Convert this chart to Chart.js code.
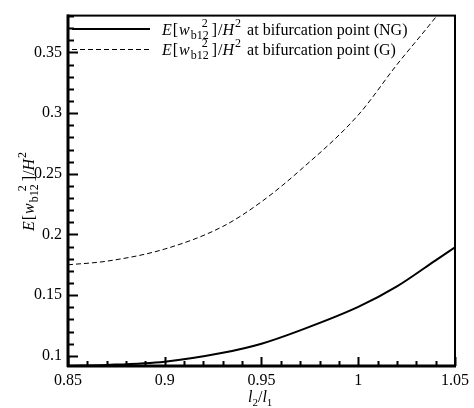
<!DOCTYPE html>
<html>
<head>
<meta charset="utf-8">
<script src="https://cdn.jsdelivr.net/npm/chart.js@4.4.1/dist/chart.umd.min.js"></script>
<style>
html, body { margin: 0; padding: 0; background: #fff; }
</style>
</head>
<body>
<canvas id="chart" width="474" height="408"></canvas>
<script>
// l2/l1 values and E[w_b12^2]/H^2
const ratio = [0.85, 0.87, 0.9, 0.93, 0.95, 0.97, 1.0, 1.02, 1.04, 1.05];
const wNG = [0.0918, 0.0925, 0.0952, 0.1025, 0.110, 0.121, 0.1403, 0.1572, 0.1787, 0.1895];
const wG = [0.1750, 0.1780, 0.1880, 0.2066, 0.2270, 0.2530, 0.2985, 0.3400, 0.3790, 0.4000];

const xTickValues = [0.85, 0.9, 0.95, 1.0, 1.05];
const xTickLabels = ['0.85', '0.9', '0.95', '1', '1.05'];
const yTickValues = [0.1, 0.15, 0.2, 0.25, 0.3, 0.35];
const yTickLabels = ['0.1', '0.15', '0.2', '0.25', '0.3', '0.35'];

const legendLabels = ['at bifurcation point (NG)', 'at bifurcation point (G)'];

const SERIF = '"Liberation Serif", "DejaVu Serif", serif';
function font(size, italic) {
    return (italic ? 'italic ' : '') + size + 'px ' + SERIF;
}

// draws E[w_b12^2]/H^2 from x on baseline y, returns end x
function drawEw(ctx, x, y) {
    ctx.textAlign = 'left';
    ctx.textBaseline = 'alphabetic';
    ctx.font = font(16, true);
    ctx.fillText('E', x, y); x += ctx.measureText('E').width + 1;
    ctx.font = font(16, false);
    ctx.fillText('[', x, y); x += ctx.measureText('[').width + 1;
    ctx.font = font(16, true);
    ctx.fillText('w', x, y); x += ctx.measureText('w').width + 1;
    ctx.font = font(12, false);
    ctx.fillText('b12', x, y + 4);
    const subW = ctx.measureText('b12').width;
    const supW = ctx.measureText('2').width;
    ctx.fillText('2', x + subW - supW - 1, y - 8);
    x += subW + 3;
    ctx.font = font(16, false);
    ctx.fillText(']', x, y); x += ctx.measureText(']').width + 1;
    ctx.fillText('/', x, y); x += ctx.measureText('/').width;
    ctx.font = font(16, true);
    ctx.fillText('H', x, y); x += ctx.measureText('H').width + 1;
    ctx.font = font(12, false);
    ctx.fillText('2', x, y - 8); x += ctx.measureText('2').width + 1;
    return x;
}

function isMajor(v, step) {
    return Math.abs(Math.round(v / step) * step - v) < 1e-6;
}

const framePlugin = {
    id: 'frame',
    afterDraw(chart) {
        const ctx = chart.ctx;
        const a = chart.chartArea;
        const xs = chart.scales.x;
        const ys = chart.scales.y;
        ctx.save();
        ctx.fillStyle = '#000';
        ctx.strokeStyle = '#000';

        // inward ticks
        ctx.lineWidth = 2;
        ctx.beginPath();
        for (let i = 0; i <= 29; i++) {
            const v = 0.09 + i * 0.01;
            if (v < ys.min || v > ys.max) continue;
            const py = Math.round(ys.getPixelForValue(v)) + 0.5;
            const len = isMajor(v, 0.05) ? 10 : 6;
            ctx.moveTo(a.left, py);
            ctx.lineTo(a.left + len, py);
        }
        for (let i = 0; i <= 20; i++) {
            const v = 0.85 + i * 0.01;
            const px = Math.round(xs.getPixelForValue(v)) + 0.5;
            const len = isMajor(v, 0.05) ? 9 : 5;
            ctx.moveTo(px, a.bottom);
            ctx.lineTo(px, a.bottom - len);
        }
        ctx.stroke();

        // frame
        ctx.lineWidth = 2;
        ctx.strokeRect(a.left, a.top, a.right - a.left, a.bottom - a.top);
        ctx.lineWidth = 3;
        ctx.beginPath();
        ctx.moveTo(a.left - 1, a.bottom);
        ctx.lineTo(a.right + 1, a.bottom);
        ctx.moveTo(a.left, a.top - 1);
        ctx.lineTo(a.left, a.bottom + 1);
        ctx.stroke();

        // legend
        ctx.lineWidth = 2;
        ctx.beginPath();
        ctx.moveTo(72, 29);
        ctx.lineTo(150, 29);
        ctx.stroke();
        ctx.lineWidth = 1;
        ctx.setLineDash([5, 3]);
        ctx.beginPath();
        ctx.moveTo(72, 49.5);
        ctx.lineTo(150, 49.5);
        ctx.stroke();
        ctx.setLineDash([]);

        let ex = drawEw(ctx, 162, 35);
        ctx.font = font(16, false);
        ctx.fillText(legendLabels[0], ex + 5, 35);
        ex = drawEw(ctx, 162, 54.5);
        ctx.font = font(16, false);
        ctx.fillText(legendLabels[1], ex + 5, 54.5);

        // y title
        ctx.save();
        ctx.translate(34, 231);
        ctx.rotate(-Math.PI / 2);
        drawEw(ctx, 0, 0);
        ctx.restore();

        // x title l2/l1
        let tx = 248, ty = 402;
        ctx.font = font(16, true);
        ctx.fillText('l', tx, ty); tx += ctx.measureText('l').width;
        ctx.font = font(11, false);
        ctx.fillText('2', tx, ty + 4); tx += ctx.measureText('2').width;
        ctx.font = font(16, false);
        ctx.fillText('/', tx, ty); tx += ctx.measureText('/').width;
        ctx.font = font(16, true);
        ctx.fillText('l', tx, ty); tx += ctx.measureText('l').width;
        ctx.font = font(11, false);
        ctx.fillText('1', tx, ty + 4);

        ctx.restore();
    }
};

const ctx = document.getElementById('chart').getContext('2d');
const myChart = new Chart(ctx, {
    type: 'line',
    data: {
        datasets: [{
            label: 'NG',
            data: ratio.map((x, i) => ({ x: x, y: wNG[i] })),
            borderColor: '#000',
            borderWidth: 2,
            pointRadius: 0,
            fill: false,
            cubicInterpolationMode: 'monotone'
        }, {
            label: 'G',
            data: ratio.map((x, i) => ({ x: x, y: wG[i] })),
            borderColor: '#000',
            borderWidth: 1,
            borderDash: [5, 3],
            pointRadius: 0,
            fill: false,
            cubicInterpolationMode: 'monotone'
        }]
    },
    options: {
        responsive: false,
        animation: false,
        layout: { padding: { left: 0, right: 17, top: 12, bottom: 0 } },
        plugins: {
            legend: { display: false },
            tooltip: { enabled: false }
        },
        scales: {
            x: {
                type: 'linear',
                min: 0.85,
                max: 1.05,
                grid: { display: false, drawTicks: false },
                border: { display: false },
                ticks: {
                    color: '#000',
                    font: { family: SERIF, size: 16 },
                    padding: 5,
                    maxRotation: 0,
                    callback: (v, i) => xTickLabels[i]
                },
                afterBuildTicks: s => { s.ticks = xTickValues.map(v => ({ value: v })); },
                afterFit: s => { s.height = 42; }
            },
            y: {
                type: 'linear',
                min: 0.0916,
                max: 0.3804,
                grid: { display: false, drawTicks: false },
                border: { display: false },
                ticks: {
                    color: '#000',
                    font: { family: SERIF, size: 16 },
                    padding: 6,
                    callback: (v, i) => yTickLabels[i]
                },
                afterBuildTicks: s => { s.ticks = yTickValues.map(v => ({ value: v })); },
                afterFit: s => { s.width = 68; }
            }
        }
    },
    plugins: [framePlugin]
});
</script>
</body>
</html>
